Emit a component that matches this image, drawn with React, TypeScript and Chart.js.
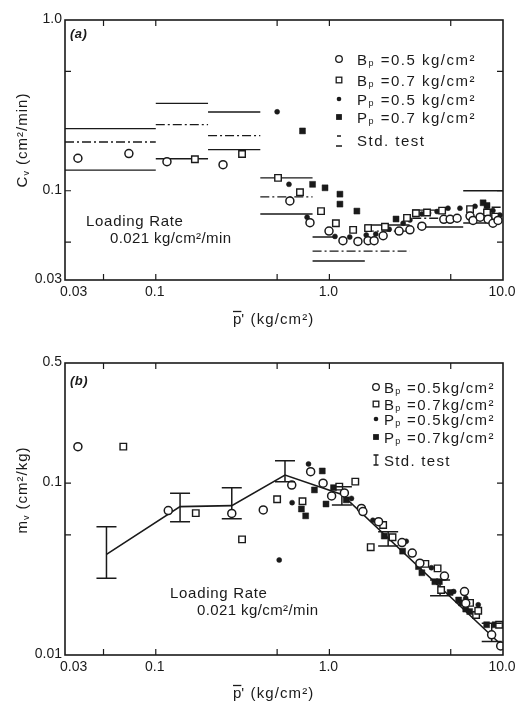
import React, { useEffect, useRef } from 'react';
import { Chart, registerables } from 'chart.js';
Chart.register(...registerables);

const INK = '#1a1a1a';
const FONT = '"Liberation Sans", Arial, Helvetica, sans-serif';

// ---------- shared x axis ----------
const X_MIN = 0.03;
const X_MAX = 10;
const xTickValues = [0.03, 0.05, 0.1, 0.5, 1, 5, 10];
const xTickLabels = ['0.03', '', '0.1', '', '1.0', '', '10.0'];

// ---------- panel (a): Cv ----------
const aYMin = 0.03;
const aYMax = 1.0;
const aYTickValues = [0.03, 0.05, 0.1, 0.5, 1.0];
const aYTickLabels = ['0.03', '', '0.1', '', '1.0'];

const aBp05X = [0.0356, 0.070, 0.116, 0.244, 0.592, 0.773, 0.995, 1.197, 1.46, 1.67, 1.81, 2.04, 2.52, 2.91, 3.41, 4.56, 4.96, 5.44, 6.46, 6.72, 7.38, 8.2, 8.75, 9.36];
const aBp05Y = [0.155, 0.165, 0.148, 0.142, 0.0871, 0.065, 0.058, 0.051, 0.0505, 0.051, 0.051, 0.0545, 0.058, 0.059, 0.062, 0.068, 0.068, 0.069, 0.071, 0.067, 0.070, 0.068, 0.0645, 0.067];

const aBp07X = [0.168, 0.314, 0.506, 0.677, 0.895, 1.09, 1.37, 1.67, 2.09, 2.80, 3.15, 3.65, 4.46, 6.46, 8.09, 9.0];
const aBp07Y = [0.153, 0.164, 0.119, 0.098, 0.076, 0.0645, 0.059, 0.0604, 0.0615, 0.0693, 0.0738, 0.0745, 0.0765, 0.078, 0.0745, 0.0705];

const aPp05X = [0.50, 0.585, 0.744, 1.077, 1.31, 1.63, 1.85, 2.21, 2.66, 2.91, 3.41, 3.73, 4.17, 4.82, 5.65, 6.9, 8.09, 8.75, 9.6];
const aPp05Y = [0.29, 0.109, 0.070, 0.054, 0.0535, 0.055, 0.0557, 0.0595, 0.0645, 0.0674, 0.073, 0.074, 0.0755, 0.079, 0.079, 0.081, 0.081, 0.0765, 0.072];

const aPp07X = [0.70, 0.80, 0.944, 1.15, 1.15, 1.44, 2.42, 7.68, 8.09];
const aPp07Y = [0.224, 0.109, 0.104, 0.0955, 0.0835, 0.076, 0.0683, 0.085, 0.082];

// standard test ranges (solid = bounds, dash-dot = mean)
const aStdSolidX0 = [0.03, 0.03, 0.1, 0.1, 0.2, 0.2, 0.4, 0.4, 0.8, 0.8, 1.6, 3.0, 3.2, 5.9, 5.9];
const aStdSolidX1 = [0.1, 0.1, 0.2, 0.2, 0.4, 0.4, 0.8, 0.8, 1.05, 1.6, 2.9, 4.5, 5.9, 10, 8.0];
const aStdSolidY = [0.231, 0.132, 0.325, 0.154, 0.289, 0.174, 0.119, 0.073, 0.0536, 0.0388, 0.063, 0.077, 0.0613, 0.100, 0.0647];

const aStdDashX0 = [0.03, 0.1, 0.2, 0.4, 0.8, 1.6, 3.0, 8.6];
const aStdDashX1 = [0.1, 0.2, 0.4, 0.8, 2.9, 2.9, 5.9, 10];
const aStdDashY = [0.193, 0.244, 0.210, 0.092, 0.0443, 0.058, 0.069, 0.080];

// ---------- panel (b): mv ----------
const bYMin = 0.01;
const bYMax = 0.5;
const bYTickValues = [0.01, 0.05, 0.1, 0.5];
const bYTickLabels = ['0.01', '', '0.1', '0.5'];

const bBp05X = [0.0356, 0.118, 0.274, 0.416, 0.607, 0.78, 0.92, 1.03, 1.22, 1.53, 1.56, 1.92, 2.62, 3.0, 3.32, 4.6, 6.0, 6.1, 8.6, 9.7];
const bBp05Y = [0.163, 0.0692, 0.0666, 0.0698, 0.0975, 0.1166, 0.100, 0.0842, 0.0877, 0.0713, 0.0683, 0.0597, 0.0451, 0.0392, 0.0342, 0.0288, 0.0234, 0.0200, 0.0131, 0.0113];

const bBp07X = [0.065, 0.170, 0.314, 0.50, 0.70, 1.14, 1.41, 1.73, 2.04, 2.31, 3.57, 4.2, 4.4, 6.46, 7.0, 7.2, 9.5];
const bBp07Y = [0.163, 0.0669, 0.0471, 0.0805, 0.0785, 0.0954, 0.102, 0.0424, 0.0571, 0.0484, 0.0339, 0.0319, 0.0239, 0.0201, 0.0171, 0.0181, 0.0150];

const bPp05X = [0.514, 0.61, 0.758, 1.34, 1.78, 2.77, 3.87, 5.2, 6.1, 7.2];
const bPp05Y = [0.0357, 0.077, 0.1293, 0.0815, 0.0608, 0.0459, 0.0322, 0.0234, 0.0214, 0.0196];

const bPp07X = [0.69, 0.73, 0.82, 0.91, 0.956, 1.056, 1.25, 2.07, 2.64, 3.26, 3.41, 4.05, 4.3, 4.96, 5.55, 5.77, 6.1, 6.43, 8.05, 9.0];
const bPp07Y = [0.0707, 0.0645, 0.0913, 0.1177, 0.0756, 0.0941, 0.0799, 0.0492, 0.0402, 0.0327, 0.0301, 0.0267, 0.0267, 0.0231, 0.0209, 0.0201, 0.0185, 0.0179, 0.0150, 0.0150];

const bStdLineX = [0.052, 0.138, 0.274, 0.555, 1.18, 10];
const bStdLineY = [0.0385, 0.073, 0.074, 0.1115, 0.086, 0.0112];

const bStdBarX = [0.052, 0.138, 0.274, 0.555, 1.18, 2.18, 4.34, 8.61];
const bStdBarHi = [0.0558, 0.0873, 0.094, 0.135, 0.0954, 0.0522, 0.0273, 0.0153];
const bStdBarLo = [0.0280, 0.0597, 0.062, 0.102, 0.0746, 0.0431, 0.0221, 0.0120];

// ---------- text ----------
type Part = [string, string];
const legendA: { marker: string; parts: Part[] }[] = [
  { marker: 'oc', parts: [['B', ''], ['p', 'sub'], [' =0.5 kg/cm²', '']] },
  { marker: 'os', parts: [['B', ''], ['p', 'sub'], [' =0.7 kg/cm²', '']] },
  { marker: 'fc', parts: [['P', ''], ['p', 'sub'], [' =0.5 kg/cm²', '']] },
  { marker: 'fs', parts: [['P', ''], ['p', 'sub'], [' =0.7 kg/cm²', '']] },
  { marker: 'stdA', parts: [['Std. test', '']] },
];
const legendB: { marker: string; parts: Part[] }[] = [
  { marker: 'oc', parts: [['B', ''], ['p', 'sub'], [' =0.5kg/cm²', '']] },
  { marker: 'os', parts: [['B', ''], ['p', 'sub'], [' =0.7kg/cm²', '']] },
  { marker: 'fc', parts: [['P', ''], ['p', 'sub'], [' =0.5kg/cm²', '']] },
  { marker: 'fs', parts: [['P', ''], ['p', 'sub'], [' =0.7kg/cm²', '']] },
  { marker: 'stdB', parts: [['Std. test', '']] },
];
const loadingLine1 = 'Loading Rate';
const loadingLine2 = '0.021 kg/cm²/min';
const xTitleRest = "' (kg/cm²)";

type Pt = { x: number; y: number | null };
const zip = (xs: number[], ys: number[]): Pt[] => xs.map((x, i) => ({ x, y: ys[i] }));
const segs = (x0: number[], x1: number[], ys: number[]): Pt[] =>
  x0.flatMap((a, i) => [{ x: a, y: ys[i] }, { x: x1[i], y: ys[i] }, { x: x1[i], y: null }]);
const vbars = (xs: number[], lo: number[], hi: number[]): Pt[] =>
  xs.flatMap((x, i) => [{ x, y: lo[i] }, { x, y: hi[i] }, { x, y: null }]);

const openCircle = (data: Pt[]) => ({ type: 'scatter', data, pointStyle: 'circle', pointRadius: 4, backgroundColor: '#fff', borderColor: INK, borderWidth: 1.5, showLine: false });
const openSquare = (data: Pt[]) => ({ type: 'scatter', data, pointStyle: 'rect', pointRadius: 4.6, backgroundColor: '#fff', borderColor: INK, borderWidth: 1.4, showLine: false });
const filledDot = (data: Pt[]) => ({ type: 'scatter', data, pointStyle: 'circle', pointRadius: 2.5, backgroundColor: INK, borderColor: INK, borderWidth: 0.5, showLine: false });
const filledSquare = (data: Pt[]) => ({ type: 'scatter', data, pointStyle: 'rect', pointRadius: 4.2, backgroundColor: INK, borderColor: INK, borderWidth: 0.5, showLine: false });
const lineDs = (data: Pt[], width: number, dash: number[] = []) => ({ type: 'line', data, borderColor: INK, borderWidth: width, borderDash: dash, pointRadius: 0, spanGaps: false, fill: false, tension: 0 });

function drawRich(ctx: CanvasRenderingContext2D, x: number, y: number, parts: Part[], size: number, spacing: number, style = '') {
  let cx = x;
  for (const [t, k] of parts) {
    const s = k ? Math.round(size * 0.58) : size;
    const dy = k === 'sub' ? size * 0.1 : k === 'sup' ? -size * 0.4 : 0;
    ctx.font = `${style} ${s}px ${FONT}`;
    (ctx as any).letterSpacing = `${spacing}px`;
    ctx.fillText(t, cx, y + dy);
    cx += ctx.measureText(t).width;
  }
  (ctx as any).letterSpacing = '0px';
  return cx;
}

function drawMarker(ctx: CanvasRenderingContext2D, kind: string, x: number, y: number) {
  ctx.save();
  ctx.strokeStyle = INK;
  ctx.fillStyle = INK;
  ctx.lineWidth = 1.3;
  if (kind === 'oc') {
    ctx.beginPath(); ctx.arc(x, y, 3.3, 0, Math.PI * 2); ctx.stroke();
  } else if (kind === 'os') {
    ctx.strokeRect(x - 2.8, y - 2.8, 5.6, 5.6);
  } else if (kind === 'fc') {
    ctx.beginPath(); ctx.arc(x, y, 2.3, 0, Math.PI * 2); ctx.fill();
  } else if (kind === 'fs') {
    ctx.fillRect(x - 2.9, y - 2.9, 5.8, 5.8);
  } else if (kind === 'stdA') {
    ctx.lineWidth = 1.3;
    ctx.beginPath();
    ctx.moveTo(x - 2, y - 4); ctx.lineTo(x + 2, y - 4);
    ctx.moveTo(x - 3, y + 6); ctx.lineTo(x + 3, y + 6);
    ctx.stroke();
  } else if (kind === 'stdB') {
    ctx.lineWidth = 1.3;
    ctx.beginPath();
    ctx.moveTo(x, y - 5); ctx.lineTo(x, y + 5);
    ctx.moveTo(x - 2.5, y - 5); ctx.lineTo(x + 2.5, y - 5);
    ctx.moveTo(x - 2.5, y + 5); ctx.lineTo(x + 2.5, y + 5);
    ctx.stroke();
  }
  ctx.restore();
}

type PanelCfg = {
  top: number;
  height: number;
  padTop: number;
  padBottom: number;
  yMin: number;
  yMax: number;
  yTicks: number[];
  yLabels: string[];
  datasets: any[];
  bars?: { x: number[]; lo: number[]; hi: number[] };
  tag: string;
  tagY: number;
  legend: { marker: string; parts: Part[] }[];
  legendMarkerX: number;
  legendTextX: number;
  legendRows: number[];
  legendSize: number;
  legendSpacing: number;
  load1: [number, number];
  load2: [number, number];
  yTitle: Part[];
  yTitleY: number;
  xTitleY: number;
};

const PAD_LEFT = 65;
const PAD_RIGHT = 17;

function makePlugin(cfg: PanelCfg) {
  return {
    id: 'decor',
    afterDatasetsDraw(chart: any) {
      if (!cfg.bars) return;
      const { ctx, scales } = chart;
      const xs = scales.x, ys = scales.y;
      ctx.save();
      ctx.strokeStyle = INK;
      ctx.lineWidth = 1.5;
      ctx.beginPath();
      cfg.bars.x.forEach((v, i) => {
        const px = xs.getPixelForValue(v);
        for (const yv of [cfg.bars!.lo[i], cfg.bars!.hi[i]]) {
          const py = ys.getPixelForValue(yv);
          ctx.moveTo(px - 10, py);
          ctx.lineTo(px + 10, py);
        }
      });
      ctx.stroke();
      ctx.restore();
    },
    afterDraw(chart: any) {
      const { ctx, chartArea: ca, scales } = chart;
      const xs = scales.x, ys = scales.y;
      ctx.save();
      ctx.strokeStyle = INK;
      ctx.fillStyle = INK;
      // frame
      ctx.lineWidth = 1.6;
      ctx.strokeRect(ca.left, ca.top, ca.right - ca.left, ca.bottom - ca.top);
      // inward ticks
      ctx.lineWidth = 1.2;
      ctx.beginPath();
      for (const v of xTickValues) {
        const px = xs.getPixelForValue(v);
        if (px <= ca.left + 2 || px >= ca.right - 2) continue;
        ctx.moveTo(px, ca.bottom); ctx.lineTo(px, ca.bottom - 6);
        ctx.moveTo(px, ca.top); ctx.lineTo(px, ca.top + 6);
      }
      for (const v of cfg.yTicks) {
        const py = ys.getPixelForValue(v);
        if (py <= ca.top + 2 || py >= ca.bottom - 2) continue;
        ctx.moveTo(ca.left, py); ctx.lineTo(ca.left + 6, py);
        ctx.moveTo(ca.right, py); ctx.lineTo(ca.right - 6, py);
      }
      ctx.stroke();
      // tick labels
      ctx.font = `14px ${FONT}`;
      ctx.textBaseline = 'middle';
      xTickValues.forEach((v, i) => {
        const lab = xTickLabels[i];
        if (!lab) return;
        const px = xs.getPixelForValue(v);
        if (i === 0) { ctx.textAlign = 'left'; ctx.fillText(lab, px - 5, ca.bottom + 12); }
        else { ctx.textAlign = 'center'; ctx.fillText(lab, px - 1, ca.bottom + 12); }
      });
      ctx.textAlign = 'right';
      cfg.yTicks.forEach((v, i) => {
        const lab = cfg.yLabels[i];
        if (!lab) return;
        const py = ys.getPixelForValue(v);
        ctx.fillText(lab, ca.left - 3, py - 1);
      });
      ctx.textAlign = 'left';
      ctx.textBaseline = 'alphabetic';
      // panel tag
      drawRich(ctx, ca.left + 5, ca.top + cfg.tagY + 5, [[cfg.tag, '']], 13, 0.5, 'italic bold');
      // legend
      cfg.legend.forEach((item, i) => {
        const ry = ca.top + cfg.legendRows[i];
        drawMarker(ctx, item.marker, ca.left + cfg.legendMarkerX, ry);
        drawRich(ctx, ca.left + cfg.legendTextX, ry + 5.5, item.parts, cfg.legendSize, cfg.legendSpacing);
      });
      // loading rate annotation
      drawRich(ctx, ca.left + cfg.load1[0], ca.top + cfg.load1[1] + 5.5, [[loadingLine1, '']], 15, 0.7);
      drawRich(ctx, ca.left + cfg.load2[0], ca.top + cfg.load2[1] + 5.5, [[loadingLine2, '']], 15, 0.4);
      // x title  p-bar' (kg/cm2)
      const tx = (ca.left + ca.right) / 2 - 51;
      const ty = ca.bottom + cfg.xTitleY + 4;
      ctx.font = `15px ${FONT}`;
      ctx.fillText('p', tx, ty);
      const pw = ctx.measureText('p').width;
      ctx.lineWidth = 1.3;
      ctx.beginPath(); ctx.moveTo(tx, ty - 12.5); ctx.lineTo(tx + pw, ty - 12.5); ctx.stroke();
      drawRich(ctx, tx + pw, ty, [[xTitleRest, '']], 15, 1.1);
      // y title (rotated)
      ctx.save();
      ctx.translate(22, ca.top + cfg.yTitleY);
      ctx.rotate(-Math.PI / 2);
      (ctx as any).letterSpacing = '1px';
      let w = 0;
      for (const [t, k] of cfg.yTitle) {
        ctx.font = `${k ? 9 : 15}px ${FONT}`;
        w += ctx.measureText(t).width;
      }
      drawRich(ctx, -w / 2, 5, cfg.yTitle, 15, 1);
      ctx.restore();
      ctx.restore();
    },
  };
}

function Panel({ cfg }: { cfg: PanelCfg }) {
  const ref = useRef<HTMLCanvasElement>(null);
  useEffect(() => {
    const chart = new Chart(ref.current!, {
      type: 'scatter',
      data: { datasets: cfg.datasets },
      options: {
        animation: false,
        responsive: false,
        maintainAspectRatio: false,
        layout: { padding: { left: PAD_LEFT, right: PAD_RIGHT, top: cfg.padTop, bottom: cfg.padBottom } },
        scales: {
          x: { type: 'logarithmic', min: X_MIN, max: X_MAX, display: false },
          y: { type: 'logarithmic', min: cfg.yMin, max: cfg.yMax, display: false },
        },
        plugins: { legend: { display: false }, tooltip: { enabled: false } },
      } as any,
      plugins: [makePlugin(cfg) as any],
    } as any);
    return () => chart.destroy();
  }, [cfg]);
  return (
    <canvas
      ref={ref}
      width={520}
      height={cfg.height}
      style={{ position: 'absolute', left: 0, top: cfg.top, width: 520, height: cfg.height }}
    />
  );
}

const panelA: PanelCfg = {
  top: 0,
  height: 345,
  padTop: 20,
  padBottom: 65,
  yMin: aYMin,
  yMax: aYMax,
  yTicks: aYTickValues,
  yLabels: aYTickLabels,
  datasets: [
    openCircle(zip(aBp05X, aBp05Y)),
    openSquare(zip(aBp07X, aBp07Y)),
    filledDot(zip(aPp05X, aPp05Y)),
    filledSquare(zip(aPp07X, aPp07Y)),
    lineDs(segs(aStdSolidX0, aStdSolidX1, aStdSolidY), 1.4),
    lineDs(segs(aStdDashX0, aStdDashX1, aStdDashY), 1.3, [9, 3, 2, 3]),
  ],
  tag: '(a)',
  tagY: 13,
  legend: legendA,
  legendMarkerX: 274,
  legendTextX: 292,
  legendRows: [39, 60, 79, 97, 120],
  legendSize: 15,
  legendSpacing: 1.5,
  load1: [21, 200],
  load2: [45, 217],
  yTitle: [['C', ''], ['v', 'sub'], [' (cm²/min)', '']],
  yTitleY: 120,
  xTitleY: 40,
};

const panelB: PanelCfg = {
  top: 345,
  height: 358,
  padTop: 18,
  padBottom: 48,
  yMin: bYMin,
  yMax: bYMax,
  yTicks: bYTickValues,
  yLabels: bYTickLabels,
  datasets: [
    openCircle(zip(bBp05X, bBp05Y)),
    openSquare(zip(bBp07X, bBp07Y)),
    filledDot(zip(bPp05X, bPp05Y)),
    filledSquare(zip(bPp07X, bPp07Y)),
    lineDs(zip(bStdLineX, bStdLineY), 1.6),
    lineDs(vbars(bStdBarX, bStdBarLo, bStdBarHi), 1.5),
  ],
  bars: { x: bStdBarX, lo: bStdBarLo, hi: bStdBarHi },
  tag: '(b)',
  tagY: 17,
  legend: legendB,
  legendMarkerX: 311,
  legendTextX: 319,
  legendRows: [24, 41, 56, 74, 97],
  legendSize: 15,
  legendSpacing: 1.3,
  load1: [105, 229],
  load2: [132, 246],
  yTitle: [['m', ''], ['v', 'sub'], [' (cm²/kg)', '']],
  yTitleY: 127,
  xTitleY: 39,
};

export default function App() {
  return (
    <div style={{ position: 'absolute', left: 0, top: 0, width: 520, height: 703, background: '#fff', overflow: 'hidden' }}>
      <Panel cfg={panelA} />
      <Panel cfg={panelB} />
    </div>
  );
}
